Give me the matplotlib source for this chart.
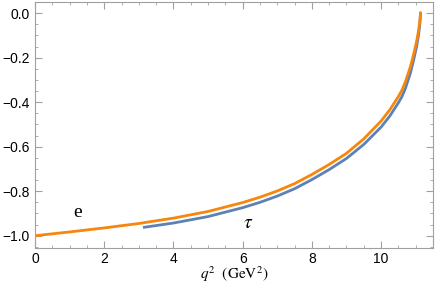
import numpy as np
import matplotlib
matplotlib.use('Agg')
import matplotlib.pyplot as plt
from matplotlib.ticker import MultipleLocator

# curve for e
q2_e = [0, 1, 2, 3, 4, 5, 6, 6.5, 7, 7.5, 8, 8.5, 9, 9.5, 10, 10.25, 10.5, 10.6,
        10.7, 10.85, 10.95, 11.03, 11.08, 11.11, 11.13, 11.14]
val_e = [-1.000, -0.983, -0.965, -0.945, -0.921, -0.891, -0.851, -0.827, -0.799,
         -0.766, -0.725, -0.680, -0.630, -0.565, -0.485, -0.435, -0.375, -0.347,
         -0.310, -0.240, -0.180, -0.125, -0.082, -0.050, -0.022, 0.0]

# curve for tau
q2_tau = [3.16, 4, 5, 6, 6.5, 7, 7.5, 8, 8.5, 9, 9.5, 10, 10.25, 10.5, 10.6,
          10.7, 10.85, 10.95, 11.03, 11.08, 11.11, 11.13, 11.14]
val_tau = [-0.962, -0.943, -0.914, -0.874, -0.850, -0.822, -0.789, -0.748, -0.703,
           -0.653, -0.590, -0.512, -0.463, -0.403, -0.376, -0.340, -0.268, -0.205,
           -0.148, -0.102, -0.065, -0.032, 0.0]

plt.rcParams['font.family'] = ['Liberation Sans', 'DejaVu Sans']
plt.rcParams['mathtext.fontset'] = 'stix'

fig = plt.figure(figsize=(4.36, 2.88), dpi=100)
ax = fig.add_axes([0.0803, 0.139, 0.9127, 0.854])

ax.plot(q2_tau, val_tau, color='#5e81b5', lw=2)
ax.plot(q2_e, val_e, color='#f7860d', lw=2)

ax.set_xlim(0, 11.5)
ax.set_ylim(-1.055, 0.05)

ax.xaxis.set_major_locator(MultipleLocator(2))
ax.xaxis.set_minor_locator(MultipleLocator(0.5))
ax.yaxis.set_major_locator(MultipleLocator(0.2))
ax.yaxis.set_minor_locator(MultipleLocator(0.05))
ax.yaxis.set_major_formatter(plt.FuncFormatter(lambda v, p: f'{v:.1f}'.replace('-', '\u2212')))

for s in ax.spines.values():
    s.set_color('#a0a0a0')
    s.set_linewidth(0.8)
ax.tick_params(which='both', direction='in', top=True, right=True,
               color='#a0a0a0', labelsize=10, labelcolor='black')
ax.tick_params(which='major', length=5, width=0.8)
ax.tick_params(axis='x', which='major', pad=3)
ax.tick_params(axis='y', which='major', pad=4)
ax.tick_params(which='minor', length=2.5, width=0.6)

ax.text(1.24, -0.894, 'e', fontsize=14, ha='center', va='center',
        fontname='Liberation Serif')
ax.text(6.17, -0.947, r'$\tau$', fontsize=14, ha='center', va='center')

ax.set_xlabel(r'$q^2\ \ (\mathrm{GeV}^2)$', fontsize=11, labelpad=-1)

fig.savefig('out.png', dpi=100)
